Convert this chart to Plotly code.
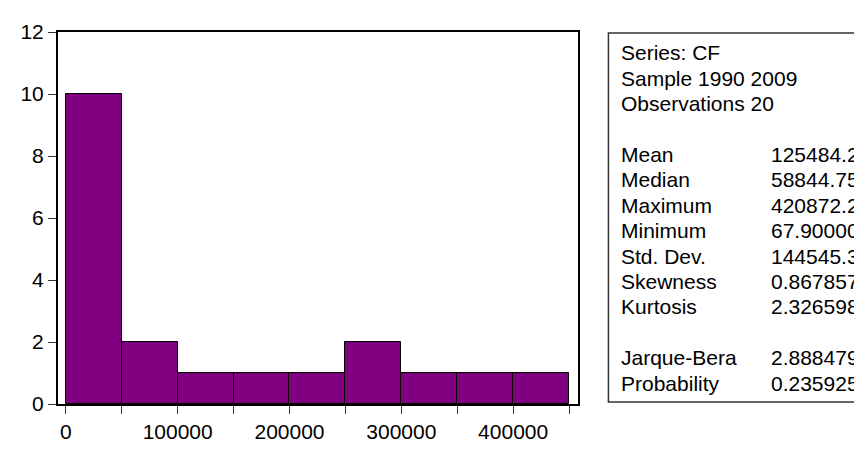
import plotly.graph_objects as go

# ---- data ----
bin_lefts = [0, 50000, 100000, 150000, 200000, 250000, 300000, 350000, 400000]
bin_width = 50000
counts = [10, 2, 1, 1, 1, 2, 1, 1, 1]

x_tickvals = [0, 50000, 100000, 150000, 200000, 250000, 300000, 350000, 400000, 450000]
x_ticktext = ["0", "", "100000", "", "200000", "", "300000", "", "400000", ""]
y_tickvals = [0, 2, 4, 6, 8, 10, 12]

header_lines = ["Series: CF", "Sample 1990 2009", "Observations 20"]
stat_labels = ["Mean", "Median", "Maximum", "Minimum", "Std. Dev.", "Skewness", "Kurtosis"]
stat_values = ["125484.2", "58844.75", "420872.2", "67.90000", "144545.3", "0.867857", "2.326598"]
test_labels = ["Jarque-Bera", "Probability"]
test_values = ["2.888479", "0.235925"]

# ---- layout geometry (page pixels; page body has an 8px default margin) ----
OFF = 8
PAGE_W, PAGE_H = 862, 455
W, H = PAGE_W - OFF, PAGE_H - OFF
L, R, T, B = 48, 578, 21, 416   # plot area in page pixels
pw, ph = R - L, B - T

def px_x(px):
    return (px - L) / pw

def px_y(py):
    return (B - py) / ph

FONT = "Liberation Sans, Arial, sans-serif"
FS = 21

centers = [b + bin_width / 2 for b in bin_lefts]

fig = go.Figure()
fig.add_trace(go.Bar(
    x=centers, y=counts, width=[bin_width] * len(counts),
    marker=dict(color="#800080", line=dict(color="#000000", width=1)),
    showlegend=False, hoverinfo="skip",
))

fig.update_layout(
    width=W, height=H,
    margin=dict(l=L - OFF, r=W - (R - OFF), t=T - OFF, b=H - (B - OFF), pad=0),
    paper_bgcolor="white", plot_bgcolor="white",
    font=dict(family=FONT, size=FS, color="black"),
    bargap=0,
    xaxis=dict(range=[-7000, 458000], tickvals=x_tickvals, ticktext=x_ticktext,
               ticks="outside", ticklen=8, tickcolor="#333", tickwidth=1,
               showgrid=False, zeroline=False, showline=True, mirror=True,
               linecolor="black", linewidth=2),
    yaxis=dict(range=[0, 12], tickvals=y_tickvals,
               ticks="outside", ticklen=8, tickcolor="#333", tickwidth=1,
               showgrid=False, zeroline=False, showline=True, mirror=True,
               linecolor="black", linewidth=2),
)

# stats box
fig.add_shape(type="rect", xref="paper", yref="paper",
              x0=px_x(609), x1=px_x(900), y0=px_y(414), y1=px_y(22),
              line=dict(color="#333", width=1.5), fillcolor="rgba(0,0,0,0)")

x_lab = px_x(620)
x_val = px_x(773)

def line_y(k):
    return px_y(43 + 27 * k)

rows = []
for i, t in enumerate(header_lines):
    rows.append((i, t, None))
for i, (a, b) in enumerate(zip(stat_labels, stat_values)):
    rows.append((4 + i, a, b))
for i, (a, b) in enumerate(zip(test_labels, test_values)):
    rows.append((12 + i, a, b))

for k, lab, val in rows:
    fig.add_annotation(x=x_lab, y=line_y(k), xref="paper", yref="paper",
                       text=lab, showarrow=False, xanchor="left", yanchor="middle",
                       font=dict(family=FONT, size=FS, color="black"))
    if val is not None:
        fig.add_annotation(x=x_val, y=line_y(k), xref="paper", yref="paper",
                           text=val, showarrow=False, xanchor="left", yanchor="middle",
                           font=dict(family=FONT, size=FS, color="black"))

fig.write_html("out.html")
